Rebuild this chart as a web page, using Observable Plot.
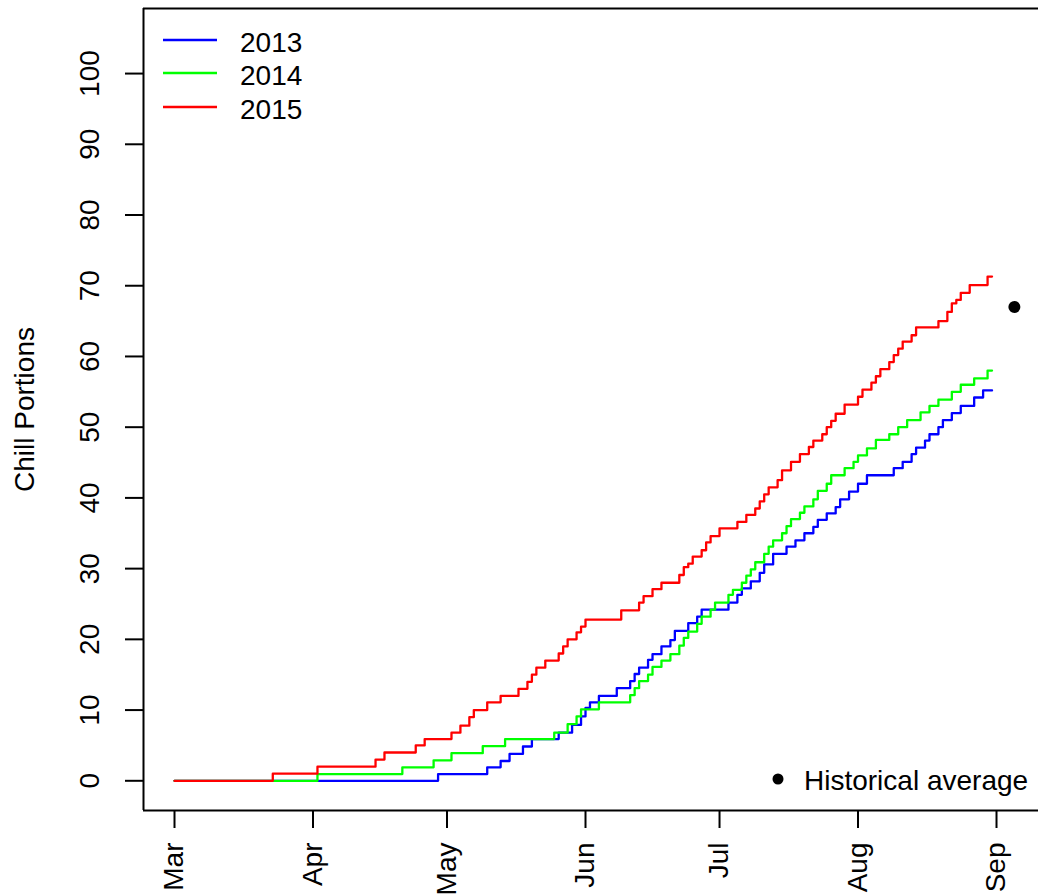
<!DOCTYPE html>
<html>
<head>
<meta charset="utf-8">
<script src="https://cdn.jsdelivr.net/npm/d3@7"></script>
<script src="https://cdn.jsdelivr.net/npm/@observablehq/plot@0.6"></script>
<style>
  html, body { margin: 0; padding: 0; background: #fff; }
  #wrap { position: relative; width: 1038px; height: 894px; overflow: hidden; font-family: "Liberation Sans", Arial, sans-serif; }
  #legend { position: absolute; left: 0; top: 0; pointer-events: none; }
</style>
</head>
<body>
<div id="wrap"></div>
<script>
// ---- data (season dates as MM-DD, values = accumulated Chill Portions) ----
const years = ["2013", "2014", "2015"];
const colors = ["#0000FF", "#00FF00", "#FF0000"];

const dates2013 = ["03-01","04-29","05-10","05-13","05-15","05-18","05-20","05-26","05-29","05-31","06-01","06-02","06-04","06-08","06-11","06-12","06-13","06-15","06-16","06-18","06-20","06-21","06-24","06-26","06-27","07-03","07-05","07-06","07-08","07-10","07-11","07-13","07-16","07-18","07-20","07-22","07-23","07-25","07-27","07-28","07-30","08-01","08-03","08-09","08-11","08-13","08-14","08-16","08-17","08-19","08-20","08-22","08-24","08-27","08-29","08-31"];
const values2013 = [0,0.95,1.9,2.8,3.8,4.85,5.9,6.8,7.9,9.1,10.3,11.1,12,13.1,14.1,15.1,16,17.1,17.9,19,19.9,21.2,22.3,23.2,24.2,25.2,26.3,27.2,28.2,29.4,30.6,32.1,33.1,34,35,35.9,36.9,37.8,38.7,39.8,40.9,42,43.2,44.2,45.1,46.2,47.1,48.1,49,50,51,52,53,54.2,55.2,55.2];

const dates2014 = ["03-01","04-02","04-21","04-28","05-02","05-09","05-14","05-25","05-28","05-30","05-31","06-04","06-11","06-12","06-13","06-15","06-16","06-18","06-20","06-22","06-23","06-24","06-26","06-27","06-29","06-30","07-03","07-04","07-06","07-07","07-08","07-09","07-11","07-12","07-13","07-15","07-16","07-17","07-19","07-20","07-22","07-23","07-25","07-26","07-29","07-31","08-01","08-03","08-05","08-08","08-10","08-12","08-15","08-17","08-19","08-22","08-24","08-27","08-30","08-31"];
const values2014 = [0,0.95,1.9,2.9,3.9,4.9,5.9,6.8,8,9.1,10.1,11.1,12.1,13.1,14.1,15,16.1,17,17.9,19.1,20.2,21.1,22.2,23.2,24.2,25.2,26.3,27,28,29,29.9,30.9,32.1,33.1,34,35,36,37,37.9,38.8,39.8,41,42,43.2,44.2,45.1,46,47,48.2,49,50,51,52.1,53,53.9,55,56,56.9,58,58];

const dates2015 = ["03-01","03-23","04-02","04-15","04-17","04-24","04-26","05-02","05-04","05-06","05-07","05-10","05-13","05-17","05-19","05-20","05-21","05-23","05-26","05-27","05-28","05-30","05-31","06-01","06-09","06-13","06-14","06-16","06-18","06-22","06-23","06-24","06-25","06-27","06-28","06-29","07-01","07-05","07-07","07-09","07-10","07-11","07-12","07-14","07-15","07-17","07-19","07-21","07-22","07-24","07-25","07-26","07-27","07-29","08-01","08-02","08-04","08-05","08-06","08-08","08-09","08-10","08-11","08-13","08-14","08-19","08-21","08-22","08-23","08-24","08-26","08-30","08-31"];
const values2015 = [0,1,2,3,4,5,5.9,6.8,7.8,9,10,11.1,12,13,14,15,16,17,18,19,20,21,21.8,22.8,24.1,25.2,26.1,27.1,28,29.1,30.2,30.7,31.7,32.6,33.7,34.6,35.7,36.6,37.6,38.5,39.5,40.5,41.5,42.5,43.9,45.1,46.2,47.2,48.1,49,50,50.9,51.9,53.2,54.3,55.3,56.3,57.2,58.2,59.2,60.2,61.1,62.1,63,64.1,65,66.3,67.5,68,69,70.1,71.3,71.3];

const histDate = "09-05";
const histValue = 67;

const monthTickDates = ["03-01","04-01","05-01","06-01","07-01","08-01","09-01"];
const monthTickLabels = ["Mar","Apr","May","Jun","Jul","Aug","Sep"];
const yTicks = [0,10,20,30,40,50,60,70,80,90,100];
const yLabel = "Chill Portions";
const histLabel = "Historical average";

// ---- build table ----
const toDate = md => new Date(`2001-${md}T00:00:00Z`);
const seriesDates = [dates2013, dates2014, dates2015];
const seriesValues = [values2013, values2014, values2015];
const rows = [];
years.forEach((yr, i) => {
  seriesDates[i].forEach((md, j) => rows.push({year: yr, date: toDate(md), value: seriesValues[i][j]}));
});

const DAY = 86400000;
const start = toDate("03-01").getTime();
const xDomain = [new Date(start - 6.94 * DAY), new Date(start + 193.4 * DAY)];
const yDomain = [-4.2, 109.2];
const FS = 28;
const FONT = '"Liberation Sans", Arial, sans-serif';

const chart = Plot.plot({
  width: 1038,
  height: 894,
  marginLeft: 143,
  marginRight: 0,
  marginTop: 8,
  marginBottom: 84,
  style: {fontFamily: FONT, fontSize: FS + "px", background: "#fff", color: "#000", overflow: "visible"},
  x: {type: "utc", domain: xDomain, axis: "bottom", ticks: monthTickDates.map(toDate), tickSize: 18, tickFormat: () => "", label: null},
  y: {domain: yDomain, axis: "left", ticks: yTicks, tickSize: 18, tickFormat: () => "", label: null},
  color: {domain: years, range: colors},
  marks: [
    // box (left, bottom, top)
    Plot.ruleX([xDomain[0]], {stroke: "#000", strokeWidth: 2}),
    Plot.ruleY(yDomain, {stroke: "#000", strokeWidth: 2}),
    // y tick labels
    Plot.text(yTicks, {y: d => d, frameAnchor: "left", text: d => String(d), rotate: -90, dx: -53,
      textAnchor: "middle", lineAnchor: "middle", fontSize: FS, fill: "#000"}),
    // x tick labels
    Plot.text(monthTickDates.map(toDate), {x: d => d, frameAnchor: "bottom", text: (d, i) => monthTickLabels[i],
      rotate: -90, textAnchor: "end", lineAnchor: "middle", dy: 32, fontSize: FS, fill: "#000"}),
    // y title
    Plot.text([yLabel], {frameAnchor: "left", text: d => d, rotate: -90, dx: -118,
      textAnchor: "middle", lineAnchor: "middle", fontSize: FS, fill: "#000"}),
    // series
    Plot.line(rows, {x: "date", y: "value", z: "year", stroke: "year", strokeWidth: 2.3, curve: "step-after"}),
    // historical average
    Plot.dot([{date: toDate(histDate), value: histValue}], {x: "date", y: "value", r: 6, fill: "#000", stroke: "none"})
  ]
});

// thicker, black axis ticks (R style)
d3.select(chart).selectAll('[aria-label*="axis"] line, [aria-label*="axis"] path')
  .attr("stroke", "#000").style("stroke", "#000").style("stroke-width", "2px").style("stroke-opacity", 1);
d3.select(chart).selectAll('[aria-label*="axis"]').attr("stroke-width", 2).attr("stroke-opacity", 1);

const wrap = document.getElementById("wrap");
wrap.appendChild(chart);

// ---- legend overlay ----
const ns = "http://www.w3.org/2000/svg";
const leg = document.createElementNS(ns, "svg");
leg.setAttribute("id", "legend");
leg.setAttribute("width", 1038);
leg.setAttribute("height", 894);
const legLineY = [40, 73, 107];
years.forEach((yr, i) => {
  const l = document.createElementNS(ns, "line");
  l.setAttribute("x1", 163); l.setAttribute("x2", 217);
  l.setAttribute("y1", legLineY[i]); l.setAttribute("y2", legLineY[i]);
  l.setAttribute("stroke", colors[i]); l.setAttribute("stroke-width", 2.3);
  leg.appendChild(l);
  const t = document.createElementNS(ns, "text");
  t.setAttribute("x", 240); t.setAttribute("y", legLineY[i] + 12);
  t.setAttribute("font-size", FS); t.setAttribute("font-family", FONT);
  t.textContent = yr;
  leg.appendChild(t);
});
const c = document.createElementNS(ns, "circle");
c.setAttribute("cx", 778); c.setAttribute("cy", 779); c.setAttribute("r", 5.5); c.setAttribute("fill", "#000");
leg.appendChild(c);
const ht = document.createElementNS(ns, "text");
ht.setAttribute("x", 804); ht.setAttribute("y", 790);
ht.setAttribute("font-size", FS); ht.setAttribute("font-family", FONT);
ht.textContent = histLabel;
leg.appendChild(ht);
wrap.appendChild(leg);
</script>
</body>
</html>
